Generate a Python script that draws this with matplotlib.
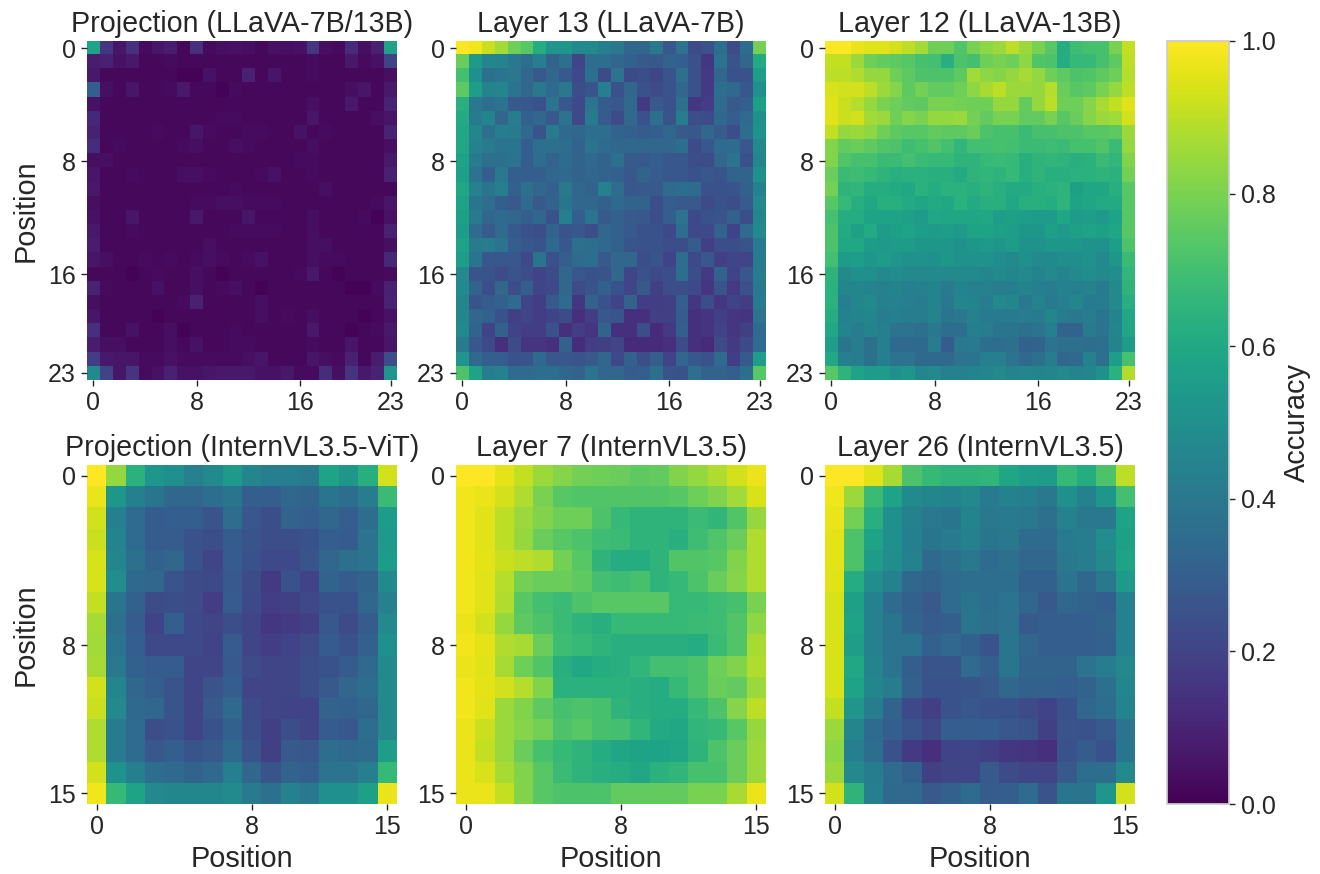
import numpy as np
import matplotlib
matplotlib.use("Agg")
import matplotlib.pyplot as plt

# accuracy values in percent
proj_llava = [
    [58, 16, 6, 14, 3, 6, 8, 2, 14, 3, 4, 5, 4, 2, 5, 4, 5, 16, 4, 3, 12, 4, 9, 58],
    [8, 9, 5, 7, 2, 2, 3, 2, 2, 2, 2, 2, 2, 2, 2, 2, 2, 3, 2, 2, 7, 3, 5, 20],
    [7, 2, 2, 2, 2, 2, 2, 1, 1, 5, 2, 2, 9, 2, 6, 2, 2, 3, 2, 2, 2, 2, 2, 4],
    [30, 4, 2, 6, 2, 2, 3, 7, 2, 2, 1, 3, 2, 2, 2, 2, 2, 2, 2, 2, 4, 6, 2, 7],
    [5, 2, 2, 2, 2, 2, 2, 2, 2, 2, 2, 2, 2, 2, 2, 2, 2, 4, 2, 2, 7, 2, 2, 10],
    [11, 2, 2, 2, 2, 2, 2, 2, 2, 2, 3, 3, 2, 2, 2, 2, 2, 6, 2, 2, 2, 2, 4, 6],
    [9, 2, 2, 2, 2, 3, 2, 2, 6, 3, 2, 2, 3, 3, 2, 2, 5, 2, 3, 2, 2, 2, 2, 10],
    [13, 2, 3, 2, 2, 2, 2, 3, 4, 2, 2, 4, 3, 2, 2, 2, 2, 4, 2, 2, 2, 2, 2, 4],
    [4, 4, 2, 2, 2, 2, 2, 2, 2, 2, 2, 2, 2, 2, 2, 2, 3, 3, 2, 2, 2, 2, 2, 7],
    [6, 2, 2, 3, 2, 2, 2, 4, 4, 3, 2, 2, 2, 3, 5, 2, 2, 3, 2, 2, 2, 2, 2, 9],
    [7, 2, 2, 2, 2, 2, 2, 2, 2, 2, 2, 3, 2, 2, 2, 2, 2, 2, 4, 2, 2, 2, 2, 2],
    [4, 2, 2, 2, 2, 2, 2, 2, 3, 3, 4, 4, 3, 3, 3, 2, 2, 2, 2, 2, 2, 2, 3, 6],
    [5, 2, 2, 6, 2, 2, 2, 2, 7, 2, 2, 2, 6, 2, 2, 2, 2, 4, 2, 2, 2, 3, 1, 5],
    [7, 2, 2, 3, 2, 2, 2, 2, 2, 2, 2, 3, 3, 3, 3, 2, 2, 4, 2, 2, 2, 2, 2, 9],
    [8, 2, 2, 2, 2, 2, 2, 2, 2, 4, 2, 2, 2, 2, 2, 2, 2, 4, 4, 2, 2, 2, 2, 4],
    [6, 4, 2, 2, 3, 2, 3, 2, 3, 4, 3, 2, 3, 5, 2, 2, 2, 4, 3, 3, 2, 2, 2, 11],
    [2, 2, 2, 1, 2, 3, 2, 2, 4, 2, 1, 2, 2, 2, 2, 2, 3, 7, 2, 1, 2, 2, 2, 3],
    [10, 3, 2, 2, 2, 5, 2, 2, 4, 2, 3, 4, 2, 1, 2, 2, 2, 2, 2, 2, 1, 1, 3, 9],
    [4, 2, 2, 2, 2, 2, 2, 3, 9, 2, 2, 2, 2, 4, 2, 2, 2, 2, 2, 2, 2, 2, 2, 10],
    [6, 2, 2, 2, 2, 1, 2, 2, 2, 2, 2, 2, 2, 4, 2, 3, 2, 4, 2, 2, 2, 1, 2, 5],
    [14, 2, 2, 5, 2, 2, 4, 1, 2, 2, 2, 3, 2, 2, 2, 2, 2, 7, 2, 2, 1, 2, 3, 7],
    [8, 4, 4, 2, 2, 2, 4, 2, 5, 2, 2, 3, 3, 2, 2, 2, 2, 3, 2, 2, 6, 2, 2, 6],
    [18, 7, 6, 6, 3, 3, 5, 3, 3, 3, 3, 3, 4, 6, 2, 2, 2, 6, 4, 3, 9, 2, 8, 24],
    [48, 20, 6, 15, 3, 5, 9, 5, 5, 6, 7, 7, 7, 5, 5, 7, 3, 3, 13, 4, 15, 7, 10, 52],
]
layer13_llava = [
    [100, 98, 92, 86, 78, 74, 62, 52, 52, 47, 47, 43, 40, 33, 33, 40, 27, 38, 23, 25, 36, 23, 35, 79],
    [77, 54, 46, 45, 40, 36, 43, 32, 37, 21, 36, 36, 33, 31, 28, 27, 32, 30, 25, 16, 38, 26, 33, 61],
    [70, 50, 37, 38, 40, 33, 28, 33, 28, 22, 37, 23, 38, 22, 24, 21, 26, 37, 25, 17, 33, 25, 25, 56],
    [75, 56, 45, 46, 38, 33, 40, 35, 40, 24, 26, 43, 25, 33, 25, 23, 26, 33, 25, 17, 36, 34, 27, 50],
    [63, 40, 36, 38, 28, 27, 25, 38, 27, 22, 38, 29, 27, 34, 17, 28, 25, 37, 16, 18, 35, 28, 30, 57],
    [61, 41, 45, 33, 42, 31, 33, 28, 38, 22, 41, 29, 23, 34, 25, 37, 26, 42, 24, 23, 34, 30, 35, 50],
    [60, 46, 37, 42, 41, 34, 26, 41, 34, 33, 36, 36, 32, 31, 29, 30, 33, 28, 27, 33, 29, 24, 36, 51],
    [60, 44, 41, 38, 39, 30, 37, 37, 36, 32, 38, 35, 33, 33, 33, 33, 33, 36, 23, 27, 35, 35, 27, 48],
    [58, 41, 37, 37, 38, 30, 36, 32, 35, 32, 34, 32, 37, 28, 28, 30, 27, 27, 24, 23, 33, 38, 25, 46],
    [57, 38, 30, 40, 30, 30, 30, 33, 34, 32, 33, 32, 31, 27, 32, 29, 27, 27, 25, 27, 26, 32, 32, 50],
    [60, 44, 39, 43, 31, 37, 33, 31, 40, 33, 32, 44, 36, 27, 28, 28, 35, 36, 35, 25, 25, 26, 31, 44],
    [58, 39, 36, 30, 28, 35, 28, 32, 39, 33, 33, 31, 34, 32, 32, 24, 30, 28, 28, 23, 25, 24, 29, 47],
    [57, 41, 33, 35, 33, 30, 33, 25, 43, 30, 38, 28, 31, 28, 27, 24, 30, 38, 22, 25, 26, 31, 24, 46],
    [55, 35, 29, 35, 28, 25, 24, 32, 26, 27, 24, 33, 31, 28, 25, 25, 22, 36, 22, 22, 32, 20, 35, 48],
    [58, 41, 42, 38, 30, 27, 26, 34, 27, 37, 36, 34, 31, 26, 25, 25, 24, 24, 29, 19, 24, 24, 26, 41],
    [56, 39, 27, 27, 27, 22, 39, 25, 30, 35, 36, 28, 33, 33, 24, 26, 20, 36, 22, 27, 19, 21, 21, 41],
    [47, 26, 26, 23, 26, 24, 20, 23, 33, 27, 25, 26, 33, 21, 25, 22, 24, 36, 24, 17, 32, 20, 27, 42],
    [48, 32, 24, 33, 24, 30, 21, 22, 33, 23, 26, 31, 25, 21, 28, 19, 24, 24, 22, 16, 26, 17, 25, 40],
    [46, 26, 29, 31, 35, 21, 18, 28, 35, 16, 32, 25, 20, 32, 18, 18, 19, 30, 16, 24, 16, 20, 18, 41],
    [46, 33, 31, 25, 19, 21, 18, 20, 23, 14, 18, 27, 26, 14, 14, 19, 19, 29, 14, 15, 19, 16, 15, 38],
    [48, 32, 20, 31, 20, 18, 18, 25, 14, 18, 15, 32, 14, 14, 24, 12, 17, 30, 14, 15, 20, 16, 19, 35],
    [41, 27, 22, 14, 23, 15, 15, 14, 31, 13, 18, 19, 21, 12, 12, 12, 14, 23, 14, 12, 23, 17, 22, 35],
    [52, 34, 30, 30, 25, 26, 34, 27, 27, 26, 28, 33, 22, 31, 24, 30, 20, 33, 27, 25, 35, 18, 28, 56],
    [72, 58, 42, 44, 35, 35, 36, 36, 33, 32, 38, 33, 33, 29, 30, 37, 26, 25, 37, 32, 32, 30, 36, 74],
]
layer12_llava = [
    [100, 100, 97, 95, 95, 93, 90, 86, 78, 78, 73, 80, 83, 85, 90, 85, 80, 74, 62, 69, 71, 71, 80, 91],
    [91, 91, 85, 78, 76, 75, 74, 71, 70, 63, 72, 70, 78, 80, 78, 83, 73, 72, 62, 67, 67, 71, 75, 90],
    [90, 90, 88, 84, 84, 78, 75, 72, 72, 72, 75, 86, 83, 82, 84, 87, 84, 78, 75, 72, 73, 75, 78, 89],
    [94, 93, 93, 90, 85, 82, 75, 79, 76, 76, 78, 83, 87, 90, 85, 85, 84, 89, 77, 74, 75, 80, 84, 90],
    [95, 92, 89, 84, 80, 78, 76, 75, 80, 80, 79, 78, 78, 84, 84, 76, 84, 90, 78, 78, 82, 87, 91, 95],
    [95, 92, 93, 86, 85, 78, 82, 80, 84, 84, 85, 79, 76, 80, 80, 76, 76, 80, 74, 77, 82, 85, 86, 93],
    [91, 84, 85, 83, 78, 75, 74, 74, 76, 75, 75, 77, 72, 71, 71, 68, 71, 71, 72, 72, 74, 74, 75, 85],
    [81, 76, 77, 75, 73, 72, 69, 71, 73, 70, 66, 70, 70, 71, 70, 68, 68, 69, 68, 71, 71, 73, 68, 84],
    [81, 73, 71, 71, 68, 68, 70, 68, 67, 67, 65, 65, 67, 68, 67, 63, 65, 66, 65, 63, 64, 68, 66, 81],
    [77, 68, 69, 67, 65, 63, 64, 64, 63, 63, 61, 65, 66, 65, 67, 63, 65, 63, 63, 64, 64, 65, 64, 79],
    [79, 65, 66, 62, 62, 61, 60, 64, 62, 64, 64, 63, 65, 63, 61, 61, 63, 64, 65, 57, 59, 59, 63, 74],
    [74, 67, 63, 60, 63, 63, 61, 59, 61, 60, 64, 61, 63, 63, 60, 63, 63, 62, 65, 58, 59, 61, 61, 74],
    [71, 62, 62, 58, 58, 58, 57, 55, 60, 59, 59, 59, 60, 56, 57, 56, 55, 55, 59, 55, 56, 54, 58, 74],
    [72, 61, 57, 61, 55, 57, 58, 56, 55, 56, 54, 58, 58, 57, 56, 53, 53, 57, 54, 57, 58, 57, 59, 74],
    [72, 60, 60, 55, 54, 55, 55, 53, 53, 53, 51, 53, 54, 53, 55, 51, 51, 53, 53, 53, 51, 51, 56, 72],
    [70, 55, 56, 53, 55, 52, 51, 51, 50, 53, 51, 51, 51, 49, 48, 50, 47, 48, 49, 49, 51, 47, 53, 68],
    [65, 47, 50, 50, 47, 49, 48, 47, 47, 47, 48, 48, 46, 47, 46, 47, 45, 47, 45, 47, 49, 48, 49, 66],
    [64, 46, 46, 45, 44, 45, 43, 44, 45, 41, 45, 44, 44, 42, 43, 45, 43, 42, 44, 43, 44, 41, 47, 65],
    [64, 43, 46, 47, 44, 44, 43, 42, 45, 40, 46, 45, 42, 48, 46, 40, 45, 41, 43, 46, 41, 42, 47, 63],
    [62, 44, 45, 46, 42, 43, 42, 42, 45, 39, 40, 44, 41, 41, 41, 42, 41, 46, 41, 40, 42, 39, 45, 60],
    [60, 45, 42, 45, 43, 38, 38, 37, 40, 36, 36, 43, 42, 39, 39, 37, 38, 43, 32, 32, 41, 38, 46, 60],
    [56, 39, 42, 37, 43, 34, 34, 34, 42, 29, 40, 41, 36, 36, 37, 31, 32, 38, 37, 37, 36, 37, 45, 55],
    [60, 43, 42, 37, 43, 38, 38, 34, 34, 34, 38, 39, 43, 43, 38, 34, 37, 42, 33, 34, 44, 37, 56, 71],
    [74, 65, 58, 55, 55, 50, 53, 46, 47, 44, 44, 45, 46, 47, 45, 46, 45, 46, 47, 45, 46, 50, 64, 88],
]
proj_intern = [
    [100, 84, 64, 52, 50, 44, 48, 54, 46, 43, 43, 41, 58, 53, 63, 93],
    [97, 53, 43, 39, 33, 33, 36, 39, 30, 30, 33, 32, 39, 36, 42, 68],
    [93, 43, 35, 29, 30, 30, 26, 36, 27, 24, 32, 30, 33, 30, 36, 55],
    [92, 45, 35, 29, 29, 25, 24, 29, 26, 24, 24, 25, 30, 29, 38, 54],
    [94, 46, 37, 31, 33, 25, 21, 29, 25, 22, 22, 26, 33, 37, 38, 55],
    [94, 49, 34, 33, 26, 23, 22, 28, 23, 17, 25, 20, 32, 29, 32, 47],
    [91, 39, 31, 23, 24, 23, 18, 29, 22, 18, 19, 22, 25, 25, 33, 44],
    [87, 37, 29, 20, 30, 22, 21, 24, 21, 16, 17, 19, 27, 23, 29, 47],
    [86, 38, 30, 22, 22, 22, 20, 29, 21, 18, 20, 23, 29, 25, 31, 50],
    [87, 40, 31, 29, 29, 21, 21, 28, 23, 21, 21, 24, 25, 29, 34, 48],
    [93, 46, 33, 30, 26, 21, 26, 30, 21, 21, 21, 24, 28, 33, 36, 47],
    [92, 47, 34, 33, 26, 21, 28, 34, 23, 21, 20, 20, 32, 31, 33, 47],
    [88, 41, 35, 24, 25, 21, 25, 31, 24, 19, 24, 21, 29, 27, 36, 47],
    [88, 41, 35, 27, 30, 26, 28, 34, 26, 19, 28, 27, 36, 34, 35, 56],
    [93, 51, 43, 36, 34, 32, 34, 43, 33, 26, 32, 30, 38, 38, 43, 67],
    [98, 67, 58, 47, 46, 46, 46, 48, 41, 37, 44, 40, 50, 50, 57, 97],
]
layer7_intern = [
    [100, 100, 96, 91, 85, 82, 79, 78, 77, 75, 76, 81, 84, 88, 93, 97],
    [98, 97, 93, 88, 80, 74, 73, 73, 73, 73, 73, 74, 78, 81, 86, 94],
    [98, 95, 90, 85, 81, 78, 78, 72, 67, 65, 65, 65, 68, 66, 73, 84],
    [98, 95, 90, 84, 77, 74, 72, 69, 68, 65, 65, 63, 69, 73, 77, 88],
    [98, 96, 92, 90, 88, 79, 74, 65, 62, 62, 65, 73, 73, 74, 81, 88],
    [98, 95, 89, 79, 77, 77, 75, 70, 69, 71, 65, 67, 72, 77, 82, 88],
    [98, 95, 88, 74, 70, 68, 72, 74, 74, 74, 74, 67, 67, 69, 71, 80],
    [97, 93, 84, 75, 72, 68, 65, 63, 67, 67, 67, 67, 68, 69, 73, 83],
    [98, 96, 88, 87, 77, 69, 67, 65, 63, 63, 63, 63, 62, 68, 73, 87],
    [97, 95, 87, 78, 73, 63, 60, 62, 63, 66, 70, 70, 72, 78, 81, 88],
    [98, 96, 93, 89, 81, 64, 64, 64, 64, 63, 62, 67, 72, 77, 76, 85],
    [98, 95, 85, 81, 75, 71, 72, 71, 65, 63, 62, 62, 67, 72, 82, 90],
    [97, 92, 85, 82, 79, 72, 74, 71, 70, 66, 61, 60, 66, 67, 74, 84],
    [97, 91, 85, 77, 71, 67, 65, 62, 59, 58, 58, 59, 65, 72, 77, 85],
    [97, 94, 87, 81, 74, 68, 65, 63, 62, 60, 64, 66, 71, 71, 77, 85],
    [97, 97, 91, 81, 74, 72, 72, 72, 76, 76, 76, 76, 80, 80, 87, 97],
]
layer26_intern = [
    [100, 100, 95, 87, 72, 67, 65, 65, 66, 59, 56, 55, 67, 62, 72, 90],
    [98, 85, 68, 58, 48, 46, 45, 47, 41, 44, 43, 40, 50, 44, 53, 70],
    [97, 79, 63, 50, 44, 40, 39, 45, 40, 41, 40, 37, 44, 40, 40, 58],
    [96, 72, 58, 50, 43, 39, 41, 44, 39, 40, 35, 35, 41, 42, 49, 57],
    [96, 72, 55, 49, 44, 34, 37, 40, 35, 37, 33, 33, 40, 42, 47, 58],
    [95, 62, 49, 44, 33, 32, 35, 36, 36, 36, 31, 31, 38, 33, 40, 54],
    [94, 57, 44, 35, 31, 28, 35, 39, 36, 38, 33, 28, 33, 32, 30, 44],
    [94, 58, 44, 39, 32, 29, 30, 39, 37, 38, 28, 30, 30, 30, 32, 44],
    [94, 56, 44, 38, 38, 31, 34, 31, 26, 39, 33, 30, 30, 30, 31, 44],
    [94, 60, 45, 38, 30, 26, 26, 35, 30, 39, 32, 32, 32, 38, 42, 47],
    [94, 58, 46, 42, 31, 25, 25, 26, 28, 33, 31, 31, 30, 32, 37, 46],
    [91, 52, 42, 32, 22, 19, 25, 27, 25, 25, 23, 20, 25, 33, 36, 45],
    [85, 46, 35, 30, 26, 22, 30, 30, 30, 27, 26, 19, 26, 25, 28, 38],
    [83, 43, 36, 25, 17, 14, 20, 21, 19, 16, 15, 14, 25, 29, 25, 39],
    [85, 47, 42, 35, 31, 19, 21, 21, 28, 23, 21, 21, 28, 36, 36, 47],
    [93, 65, 43, 34, 34, 28, 31, 35, 29, 30, 35, 26, 39, 39, 52, 93],
]

titles = ["Projection (LLaVA-7B/13B)", "Layer 13 (LLaVA-7B)", "Layer 12 (LLaVA-13B)",
          "Projection (InternVL3.5-ViT)", "Layer 7 (InternVL3.5)", "Layer 26 (InternVL3.5)"]
grids = [proj_llava, layer13_llava, layer12_llava, proj_intern, layer7_intern, layer26_intern]
ticks_24 = [0, 8, 16, 23]
ticks_16 = [0, 8, 15]
cbar_ticks = [0.0, 0.2, 0.4, 0.6, 0.8, 1.0]

W, H = 1320, 874
TEXT = "#262626"
plt.rcParams["font.family"] = ["Liberation Sans", "DejaVu Sans"]
plt.rcParams["text.color"] = TEXT
plt.rcParams["axes.labelcolor"] = TEXT
plt.rcParams["xtick.color"] = TEXT
plt.rcParams["ytick.color"] = TEXT


def px_axes(fig, left, top, right, bottom):
    return fig.add_axes([left / W, 1 - bottom / H, (right - left) / W, (bottom - top) / H])


fig = plt.figure(figsize=(W / 100, H / 100), dpi=100)
lefts = [87, 456, 825]
tops = [(41, 380), (465, 804)]

for i, (grid, title) in enumerate(zip(grids, titles)):
    r, c = i // 3, i % 3
    ax = px_axes(fig, lefts[c], tops[r][0], lefts[c] + 310, tops[r][1])
    im = ax.imshow(np.array(grid) / 100, cmap="viridis", vmin=0, vmax=1, aspect="auto",
                   interpolation="nearest")
    ticks = ticks_24 if r == 0 else ticks_16
    ax.set_xticks(ticks)
    ax.set_yticks(ticks)
    ax.tick_params(length=4.5, width=1, labelsize=18, pad=3.5)
    ax.set_title(title, fontsize=20.6, pad=6.5)
    for s in ax.spines.values():
        s.set_visible(False)
    if c == 0:
        ax.set_ylabel("Position", fontsize=20.8, labelpad=6)
    if r == 1:
        ax.set_xlabel("Position", fontsize=20.8, labelpad=4.5)

cax = px_axes(fig, 1167, 41, 1229, 804)
cb = fig.colorbar(im, cax=cax)
cb.set_ticks(cbar_ticks)
cb.ax.tick_params(length=4.5, width=1, labelsize=18, pad=4)
cb.outline.set_edgecolor("#cccccc")
cb.outline.set_linewidth(1.25)
cb.set_label("Accuracy", fontsize=20.8, labelpad=5)

plt.savefig("out.png", dpi=100)
plt.close()
